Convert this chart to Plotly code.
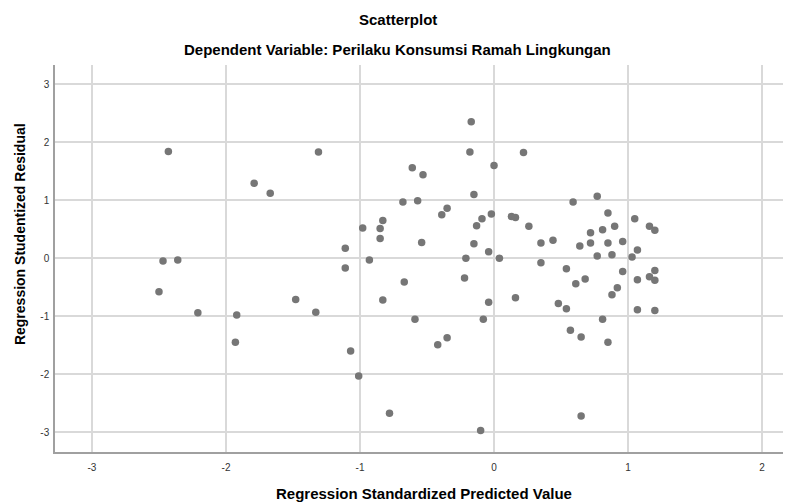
import plotly.graph_objects as go

# Regression standardized predicted value (x) and studentized residual (y)
pred = [
    -2.43, -1.79, -1.67, -2.47, -2.36, -2.50, -2.21, -1.92, -1.93,
    -0.17, -1.31, -0.18, 0.22, 0.00, -0.61, -0.53, -0.15, -0.68, -0.57,
    -0.35, -0.39, -0.02, -0.09, -0.13, 0.13, 0.16, 0.26, -0.83, -0.85,
    -0.98, -0.85, -0.54, -0.15, -1.11, -0.04, -0.21, 0.04, -0.93,
    -1.11, -0.22, -0.67, -1.48, -1.33, -0.83, -0.04, 0.16, -0.59, -0.08,
    -0.35, -0.42, -1.07, -1.01, -0.78, -0.10,
    0.77, 0.59, 0.85, 1.05, 0.90, 0.81, 0.72, 1.16, 1.20, 0.35, 0.44,
    0.64, 0.72, 0.85, 0.96, 1.07, 0.77, 0.88, 1.03,
    0.35, 0.54, 0.96, 1.20, 0.61, 0.68, 1.07, 1.16, 1.20, 0.92, 0.88,
    0.48, 0.54, 1.07, 1.20, 0.81, 0.57, 0.65, 0.85, 0.65,
]
resid = [
    1.84, 1.29, 1.12, -0.05, -0.03, -0.58, -0.94, -0.98, -1.45,
    2.35, 1.83, 1.83, 1.82, 1.60, 1.56, 1.44, 1.10, 0.97, 0.99,
    0.86, 0.75, 0.76, 0.68, 0.56, 0.72, 0.70, 0.55, 0.65, 0.51,
    0.52, 0.34, 0.27, 0.25, 0.17, 0.11, 0.00, 0.00, -0.03,
    -0.17, -0.34, -0.41, -0.71, -0.93, -0.72, -0.76, -0.68, -1.05, -1.05,
    -1.37, -1.49, -1.60, -2.03, -2.67, -2.97,
    1.07, 0.97, 0.78, 0.68, 0.55, 0.49, 0.44, 0.55, 0.48, 0.26, 0.31,
    0.21, 0.26, 0.26, 0.29, 0.14, 0.04, 0.06, 0.02,
    -0.08, -0.18, -0.23, -0.21, -0.44, -0.36, -0.37, -0.32, -0.38, -0.51, -0.63,
    -0.78, -0.87, -0.89, -0.90, -1.05, -1.24, -1.36, -1.45, -2.72,
]
x_ticks = [-3, -2, -1, 0, 1, 2]
y_ticks = [-3, -2, -1, 0, 1, 2, 3]

fig = go.Figure()
fig.add_trace(go.Scatter(
    x=pred, y=resid, mode="markers",
    marker=dict(color="#767676", size=7.5),
    showlegend=False,
))

axis_style = dict(
    showgrid=True, gridcolor="#d9d9d9", gridwidth=1.5,
    zeroline=False, showline=True, linecolor="#a0a0a0", linewidth=1.5,
    ticks="", tickfont=dict(family="Arial", size=10, color="#333333"),
    automargin=False,
)
fig.update_xaxes(range=[-3.276, 2.216], tickvals=x_ticks,
                 ticktext=[str(t) for t in x_ticks], ticklabelstandoff=5, **axis_style)
fig.update_yaxes(range=[-3.34, 3.33], tickvals=y_ticks,
                 ticktext=[str(t) for t in y_ticks], ticklabelstandoff=2, **axis_style)

title_font = dict(family="Arial", size=14, color="black")
texts = [
    ("<b>Scatterplot</b>", 0.4654, 1.1164, 0, 15),
    ("<b>Dependent Variable: Perilaku Konsumsi Ramah Lingkungan</b>", 0.466, 1.0388, 0, 15),
    ("<b>Regression Standardized Predicted Value</b>", 0.5014, -0.1068, 0, 15),
    ("<b>Regression Studentized Residual</b>", -0.0476, 0.563, -90, 14),
]
for txt, px_, py_, ang, sz in texts:
    fig.add_annotation(text=txt, xref="paper", yref="paper", x=px_, y=py_,
                       xanchor="center", yanchor="middle", textangle=ang,
                       showarrow=False, font=dict(title_font, size=sz))

# page body has an 8px margin, so the figure is shrunk by that much
fig.update_layout(
    width=783, height=495,
    margin=dict(l=47, r=0, t=57, b=51.3),
    plot_bgcolor="white", paper_bgcolor="white",
    font=dict(family="Arial"),
)

fig.write_html("out.html")
